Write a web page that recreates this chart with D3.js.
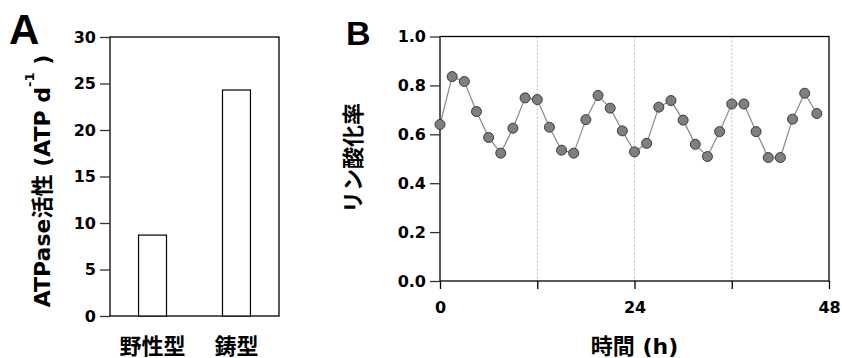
<!DOCTYPE html>
<html>
<head>
<meta charset="utf-8">
<script src="https://cdn.jsdelivr.net/npm/d3@7"></script>
<style>
  body { margin: 0; background: #fff; }
  svg { display: block; }
  .tick text { font-family: "DejaVu Sans", Verdana, sans-serif; font-weight: bold; font-size: 16px; fill: #000; }
</style>
</head>
<body>
<script>
// panel A data
const strains = ["野性型", "鋳型"]
const activity = [8.7, 24.3]
const aTicks = [0, 5, 10, 15, 20, 25, 30]

// panel B data (every 1.5 h)
const hours = d3.range(32).map(i => i * 1.5)
const phospho = [0.640, 0.836, 0.816, 0.693, 0.587, 0.523, 0.625, 0.749,
                 0.742, 0.629, 0.535, 0.523, 0.660, 0.759, 0.707, 0.614,
                 0.528, 0.563, 0.711, 0.738, 0.658, 0.559, 0.509, 0.611,
                 0.724, 0.724, 0.611, 0.505, 0.505, 0.662, 0.768, 0.685]
const bTicksY = [0, 0.2, 0.4, 0.6, 0.8, 1.0]
const bTicksX = [0, 12, 24, 36, 48]
const bLabelsX = [0, 24, 48]

const W = 842, H = 358
// latin in DejaVu (Verdana-like), kanji falls back to Noto CJK
const fam = '"DejaVu Sans", "Noto Sans CJK JP", sans-serif'

const svg = d3.select('body').append('svg')
    .attr('width', W)
    .attr('height', H)

// ---------- panel A ----------
const A = {left: 110, right: 279, top: 37, bottom: 316}

const xA = d3.scaleBand()
    .domain(strains)
    .range([A.left, A.right])
    .paddingInner(0.667)
    .paddingOuter(0.34)

const yA = d3.scaleLinear()
    .domain([0, 30])
    .range([A.bottom, A.top])

// frame
svg.append('rect')
    .attr('x', A.left).attr('y', A.top)
    .attr('width', A.right - A.left).attr('height', A.bottom - A.top)
    .attr('fill', 'none').attr('stroke', '#000').attr('stroke-width', 1.3)

svg.selectAll('.barA').data(strains)
    .enter()
    .append('rect')
        .attr('x', d => xA(d))
        .attr('y', (d, i) => yA(activity[i]))
        .attr('width', xA.bandwidth())
        .attr('height', (d, i) => yA(0) - yA(activity[i]))
        .attr('fill', '#fff')
        .attr('stroke', '#000')
        .attr('stroke-width', 1.2)

const yAxisA = svg.append('g')
    .attr('transform', 'translate(' + A.left + ',0)')
    .call(d3.axisLeft(yA).tickValues(aTicks).tickSize(10).tickPadding(4))
yAxisA.select('.domain').remove()
yAxisA.selectAll('line').attr('stroke', '#333').attr('stroke-width', 1.3)

svg.selectAll('.catA').data(strains)
    .enter()
    .append('text')
        .attr('x', d => xA(d) + xA.bandwidth() / 2)
        .attr('y', 354)
        .attr('text-anchor', 'middle')
        .style('font-family', fam)
        .style('font-weight', 'bold')
        .style('font-size', '22px')
        .text(d => d)

// y title A
const tA = svg.append('text')
    .attr('transform', 'translate(50,181) rotate(-90)')
    .attr('text-anchor', 'middle')
    .style('font-family', fam)
    .style('font-weight', 'bold')
    .style('font-size', '22px')
tA.append('tspan').text('ATPase活性 (ATP d')
tA.append('tspan').attr('dy', -16).style('font-size', '13px').text('-1')
tA.append('tspan').attr('dy', 16).text(' )')

svg.append('text')
    .attr('x', 9).attr('y', 44)
    .style('font-family', '"Liberation Sans", Arial, sans-serif')
    .style('font-weight', 'bold')
    .style('font-size', '42px')
    .text('A')

// ---------- panel B ----------
const B = {left: 440, right: 829, top: 36.5, bottom: 281}

const xB = d3.scaleLinear()
    .domain([0, 48])
    .range([B.left, B.right])

const yB = d3.scaleLinear()
    .domain([0, 1])
    .range([B.bottom, B.top])

// dotted grid at 12, 24, 36
svg.selectAll('.gridB').data(bTicksX.slice(1, 4))
    .enter()
    .append('line')
        .attr('x1', d => xB(d)).attr('x2', d => xB(d))
        .attr('y1', B.top).attr('y2', B.bottom)
        .attr('stroke', '#bbb')
        .attr('stroke-width', 1)
        .attr('stroke-dasharray', '2,2')

svg.append('rect')
    .attr('x', B.left).attr('y', B.top)
    .attr('width', B.right - B.left).attr('height', B.bottom - B.top)
    .attr('fill', 'none').attr('stroke', '#000').attr('stroke-width', 1.3)

const yAxisB = svg.append('g')
    .attr('transform', 'translate(' + B.left + ',0)')
    .call(d3.axisLeft(yB).tickValues(bTicksY).tickFormat(d3.format('.1f')).tickSize(10).tickPadding(4))
yAxisB.select('.domain').remove()
yAxisB.selectAll('line').attr('stroke', '#333').attr('stroke-width', 1.3)

const xAxisB = svg.append('g')
    .attr('transform', 'translate(0,' + B.bottom + ')')
    .call(d3.axisBottom(xB).tickValues(bTicksX)
        .tickFormat(d => bLabelsX.includes(d) ? d : '')
        .tickSize(8).tickPadding(13))
xAxisB.select('.domain').remove()
xAxisB.selectAll('line').attr('stroke', '#000').attr('stroke-width', 1.3)

const line = d3.line()
    .x((d, i) => xB(hours[i]))
    .y(d => yB(d))

svg.append('path')
    .datum(phospho)
    .attr('fill', 'none')
    .attr('stroke', '#888')
    .attr('stroke-width', 1.2)
    .attr('d', line)

svg.selectAll('.dotB').data(phospho)
    .enter()
    .append('circle')
        .attr('cx', (d, i) => xB(hours[i]))
        .attr('cy', d => yB(d))
        .attr('r', 5)
        .attr('fill', '#7f7f7f')
        .attr('stroke', '#3a3a3a')
        .attr('stroke-width', 1)

svg.append('text')
    .attr('transform', 'translate(361,158) rotate(-90)')
    .attr('text-anchor', 'middle')
    .style('font-family', fam)
    .style('font-weight', 'bold')
    .style('font-size', '22px')
    .text('リン酸化率')

svg.append('text')
    .attr('x', (B.left + B.right) / 2)
    .attr('y', 354)
    .attr('text-anchor', 'middle')
    .style('font-family', fam)
    .style('font-weight', 'bold')
    .style('font-size', '22px')
    .text('時間 (h)')

svg.append('text')
    .attr('x', 346).attr('y', 45)
    .style('font-family', '"Liberation Sans", Arial, sans-serif')
    .style('font-weight', 'bold')
    .style('font-size', '34px')
    .text('B')
</script>
</body>
</html>
